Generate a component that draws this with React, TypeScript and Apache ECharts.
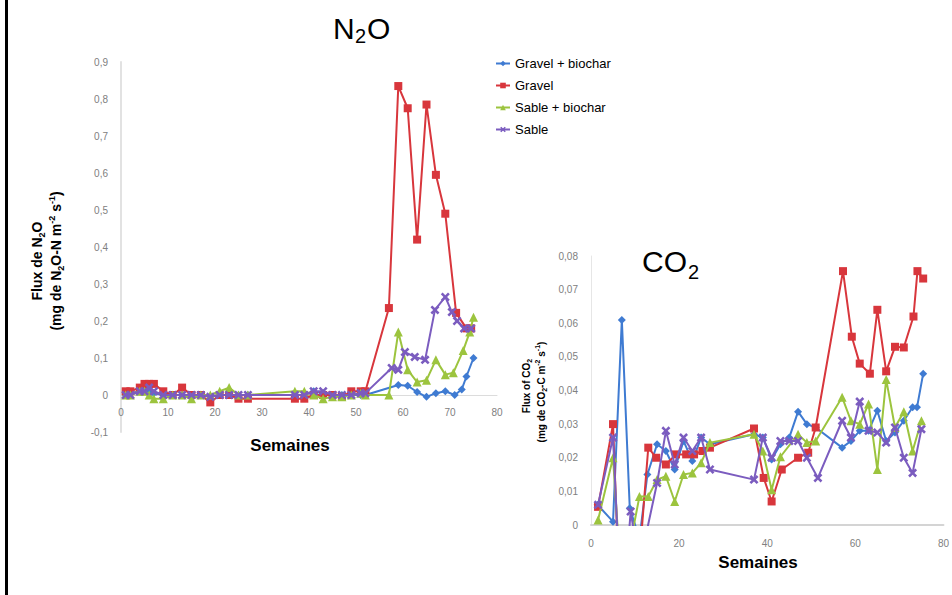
import React, { useEffect, useRef } from "react";
import * as echarts from "echarts";

// ---------- N2O data (weeks / values) ----------
const n2oGravelBiocharW = [1, 2, 4, 5, 6, 7, 9, 11, 13, 15, 17, 19, 21, 23, 25, 27, 37, 39, 41, 43, 45, 47, 49, 51, 52, 59, 61, 63, 65, 67, 69, 71, 72.5, 73.5, 75];
const n2oGravelBiocharV = [0, 0.005, 0.01, 0.02, 0.01, 0.005, 0, 0, 0, -0.005, 0, -0.005, 0, 0, 0, 0, 0, 0, 0.01, 0.005, 0, 0, 0, 0, 0, 0.027, 0.025, 0.008, -0.005, 0.005, 0.01, 0, 0.015, 0.05, 0.1];
const n2oGravelW = [1, 2, 4, 5, 6, 7, 9, 11, 13, 15, 17, 19, 21, 23, 25, 27, 37, 39, 41, 43, 45, 47, 49, 51, 52, 57, 59, 61, 63, 65, 67, 69, 71.3, 73.5, 74.5];
const n2oGravelV = [0.01, 0.01, 0.02, 0.03, 0.03, 0.03, 0.01, 0, 0.02, 0, 0, -0.02, 0, 0, -0.01, -0.01, -0.01, -0.01, 0, 0, 0, -0.005, 0.01, 0.01, 0.01, 0.235, 0.835, 0.775, 0.42, 0.785, 0.595, 0.49, 0.222, 0.18, 0.18];
const n2oSableBiocharW = [1, 2, 4, 5, 6, 7, 9, 11, 13, 15, 17, 19, 21, 23, 25, 27, 37, 39, 41, 43, 45, 47, 49, 51, 52, 57, 59, 61, 63, 65, 67, 69, 70.7, 72.8, 74.2, 75];
const n2oSableBiocharV = [0, 0, 0.01, 0.01, 0, -0.01, -0.01, 0, 0, -0.01, 0, 0, 0.01, 0.02, 0, 0, 0.01, 0.01, 0, -0.01, -0.005, -0.005, 0, 0.005, 0, 0, 0.17, 0.068, 0.035, 0.04, 0.095, 0.055, 0.06, 0.12, 0.17, 0.21];
const n2oSableW = [1, 2, 4, 5, 6, 7, 9, 11, 13, 15, 17, 19, 21, 23, 25, 27, 37, 39, 41, 43, 45, 47, 49, 51, 52, 57.6, 59, 60.4, 62.5, 64.7, 66.8, 69, 70.4, 71.5, 73, 74.5];
const n2oSableV = [0, 0, 0.01, 0.01, 0.02, 0.01, 0, 0, 0, 0, 0, -0.005, 0, 0, 0, 0, 0, 0, 0.01, 0.01, 0, 0, 0, 0.005, 0.005, 0.073, 0.068, 0.116, 0.103, 0.095, 0.23, 0.265, 0.224, 0.2, 0.18, 0.18];

// ---------- CO2 data (weeks / values) ----------
const co2GravelBiocharW = [1.5, 5, 7, 8.8, 11, 12.8, 15, 17, 19, 21, 23, 25, 27, 37, 39, 41, 43, 45, 47, 49, 51, 57, 59, 61, 63, 65, 67, 69, 71, 73, 74, 75.4];
const co2GravelBiocharV = [0.006, 0.001, 0.061, 0.005, -0.004, 0.015, 0.024, 0.022, 0.0165, 0.025, 0.019, 0.026, 0.024, 0.027, 0.026, 0.0195, 0.024, 0.026, 0.0337, 0.03, 0.029, 0.023, 0.025, 0.028, 0.028, 0.034, 0.025, 0.0275, 0.031, 0.035, 0.035, 0.045];
const co2GravelW = [1.6, 5, 7, 9, 11, 13, 14.8, 17, 19.3, 21.6, 23.4, 25.3, 27, 37, 39.2, 41, 43.3, 47, 49.3, 51, 57.2, 59.2, 61, 63.3, 65, 67, 69, 71, 73.2, 74.1, 75.4];
const co2GravelV = [0.0054, 0.03, -0.04, -0.03, -0.01, 0.023, 0.02, 0.018, 0.021, 0.021, 0.021, 0.022, 0.023, 0.0287, 0.014, 0.007, 0.0165, 0.02, 0.0215, 0.029, 0.0755, 0.056, 0.048, 0.045, 0.064, 0.0457, 0.053, 0.0528, 0.062, 0.0755, 0.0733];
const co2SableBiocharW = [1.6, 5, 7, 9, 11, 13, 15, 17, 19, 21, 23, 25, 27, 37, 39, 41, 43, 47, 49, 51, 57, 59, 61, 63, 65, 67, 69, 71, 73, 75];
const co2SableBiocharV = [0.0015, 0.02, -0.02, -0.005, 0.0085, 0.0085, 0.0135, 0.0145, 0.007, 0.015, 0.0155, 0.0185, 0.0245, 0.027, 0.022, 0.0105, 0.0203, 0.027, 0.0245, 0.025, 0.038, 0.031, 0.03, 0.036, 0.0165, 0.0433, 0.029, 0.0337, 0.022, 0.031];
const co2SableW = [1.6, 5, 7, 9, 11, 15, 17, 19, 21, 23, 25, 27, 37, 39, 41, 43, 45, 47, 49, 51.5, 57, 59, 61, 63, 65, 67, 69, 71, 73, 75];
const co2SableV = [0.006, 0.026, -0.03, 0.004, -0.012, 0.0125, 0.028, 0.018, 0.026, 0.022, 0.026, 0.0165, 0.0135, 0.026, 0.02, 0.025, 0.025, 0.025, 0.02, 0.014, 0.031, 0.026, 0.0367, 0.028, 0.0275, 0.0245, 0.029, 0.02, 0.0155, 0.0285];

const seriesNames = ["Gravel + biochar", "Gravel", "Sable + biochar", "Sable"];
const colors = ["#3f7bd2", "#d8363c", "#9cc43e", "#7b5cbf"];
const xTicksN2O = [0, 80, 10];
const yTicksN2O = [-0.1, 0.9, 0.1];
const xTicksCO2 = [0, 80, 20];
const yTicksCO2 = [0, 0.08, 0.01];

const XMARK = "path://M2,0 L5,3 L8,0 L10,2 L7,5 L10,8 L8,10 L5,7 L2,10 L0,8 L3,5 L0,2 Z";
const symbols = ["diamond", "rect", "triangle", XMARK];
const symSizes = [8, 8, 9, 9];

const FONT = "Liberation Sans, Arial, sans-serif";

function mk(i: number, xs: number[], ys: number[], axis: number) {
  return {
    type: "line",
    name: seriesNames[i],
    xAxisIndex: axis,
    yAxisIndex: axis,
    data: xs.map((x, k) => [x, ys[k]]),
    symbol: symbols[i],
    symbolSize: symSizes[i],
    showSymbol: true,
    clip: true,
    lineStyle: { color: colors[i], width: 2 },
    itemStyle: { color: colors[i] },
    z: 2 + i,
  };
}

const fmt = (d: number) => (v: number) =>
  Math.abs(v) < 1e-9 ? "0" : v.toFixed(d).replace(".", ",");

function txt(text: string, x: number, y: number, size: number, align = "left") {
  return {
    type: "text", x, y, silent: true,
    style: { text, fontSize: size, fontFamily: FONT, fill: "#000", align, verticalAlign: "middle" },
  };
}

export default function App() {
  const ref = useRef<HTMLDivElement>(null);
  useEffect(() => {
    if (!ref.current) return;
    const chart = echarts.init(ref.current, undefined, { renderer: "svg" });
    const axisLabel = { color: "#808080", fontSize: 10, fontFamily: FONT };
    const nameRich = (size: number, color: string) => ({
      a: { fontSize: size, fontFamily: FONT, fontWeight: "bold", color, lineHeight: size + 4, verticalAlign: "middle" },
      s: { fontSize: Math.round(size * 0.65), fontFamily: FONT, fontWeight: "bold", color, lineHeight: size * 0.7, padding: [size * 0.6, 0, 0, 0], verticalAlign: "bottom" },
      p: { fontSize: Math.round(size * 0.65), fontFamily: FONT, fontWeight: "bold", color, lineHeight: size * 0.7, verticalAlign: "top" },
    });

    chart.setOption({
      animation: false,
      backgroundColor: "#fff",
      grid: [
        { left: 121, top: 62, width: 376, height: 370 },
        { left: 591, top: 256, width: 355, height: 269 },
      ],
      xAxis: [
        {
          type: "value", gridIndex: 0, min: xTicksN2O[0], max: xTicksN2O[1], interval: xTicksN2O[2],
          offset: -37,
          axisLine: { onZero: false, lineStyle: { color: "#dcdcdc", width: 1 } },
          axisTick: { show: false }, splitLine: { show: false },
          axisLabel: { ...axisLabel, margin: 12 },
        },
        {
          type: "value", gridIndex: 1, min: xTicksCO2[0], max: xTicksCO2[1], interval: xTicksCO2[2],
          axisLine: { onZero: false, lineStyle: { color: "#d4d4d4", width: 2 } },
          axisTick: { show: false }, splitLine: { show: false },
          axisLabel: { ...axisLabel, margin: 13 },
        },
      ],
      yAxis: [
        {
          type: "value", gridIndex: 0, min: yTicksN2O[0], max: yTicksN2O[1], interval: yTicksN2O[2],
          axisLine: { show: true, onZero: false, lineStyle: { color: "#e2e2e2", width: 2 } },
          axisTick: { show: false }, splitLine: { show: false },
          axisLabel: { ...axisLabel, margin: 13, formatter: fmt(1) },
        },
        {
          type: "value", gridIndex: 1, min: yTicksCO2[0], max: yTicksCO2[1], interval: yTicksCO2[2],
          axisLine: { show: true, onZero: false, lineStyle: { color: "#e6e6e6", width: 1 } },
          axisTick: { show: false }, splitLine: { show: false },
          axisLabel: { ...axisLabel, margin: 13, formatter: fmt(2) },
        },
      ],
      legend: {
        orient: "vertical", left: 490, top: 52, itemGap: 9, itemWidth: 14, itemHeight: 7,
        data: seriesNames,
        textStyle: { fontSize: 13, fontFamily: FONT, color: "#000" },
      },
      series: [
        mk(0, n2oGravelBiocharW, n2oGravelBiocharV, 0),
        mk(1, n2oGravelW, n2oGravelV, 0),
        mk(2, n2oSableBiocharW, n2oSableBiocharV, 0),
        mk(3, n2oSableW, n2oSableV, 0),
        mk(0, co2GravelBiocharW, co2GravelBiocharV, 1),
        mk(1, co2GravelW, co2GravelV, 1),
        mk(2, co2SableBiocharW, co2SableBiocharV, 1),
        mk(3, co2SableW, co2SableV, 1),
      ],
      graphic: [
        { type: "rect", left: 5, top: 0, shape: { width: 3, height: 595 }, style: { fill: "#000" }, silent: true },
        txt("N", 333, 28, 30),
        txt("2", 355, 36, 20),
        txt("O", 367, 28, 30),
        txt("CO", 642, 261, 30),
        txt("2", 688, 272, 20),
        {
          type: "text", x: 37, y: 261, rotation: Math.PI / 2,
          style: { text: "{a|Flux de N}{s|2}{a|O}", rich: nameRich(14, "#000"), align: "center", verticalAlign: "middle" },
        },
        {
          type: "text", x: 56, y: 261, rotation: Math.PI / 2,
          style: { text: "{a|(mg de N}{s|2}{a|O-N m}{p|-2}{a| s}{p|-1}{a|)}", rich: nameRich(14, "#000"), align: "center", verticalAlign: "middle" },
        },
        {
          type: "text", x: 290, y: 445,
          style: { text: "Semaines", fontSize: 17, fontWeight: "bold", fontFamily: FONT, fill: "#000", align: "center", verticalAlign: "middle" },
        },
        {
          type: "text", x: 526, y: 386, rotation: Math.PI / 2,
          style: { text: "{a|Flux of CO}{s|2}", rich: nameRich(10, "#333"), align: "center", verticalAlign: "middle" },
        },
        {
          type: "text", x: 541, y: 392, rotation: Math.PI / 2,
          style: { text: "{a|(mg de CO}{s|2}{a|-C m}{p|-2}{a| s}{p|-1}{a|)}", rich: nameRich(10, "#333"), align: "center", verticalAlign: "middle" },
        },
        {
          type: "text", x: 758, y: 562,
          style: { text: "Semaines", fontSize: 17, fontWeight: "bold", fontFamily: FONT, fill: "#000", align: "center", verticalAlign: "middle" },
        },
      ],
    });
    return () => chart.dispose();
  }, []);
  return (
    <div
      ref={ref}
      style={{ position: "absolute", left: 0, top: 0, width: 952, height: 595 }}
    />
  );
}
